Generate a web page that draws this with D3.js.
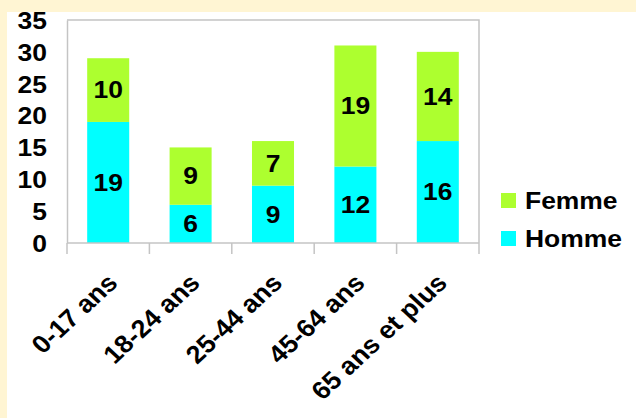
<!DOCTYPE html>
<html>
<head>
<meta charset="utf-8">
<script src="https://cdn.jsdelivr.net/npm/d3@7"></script>
<style>
  html, body { margin: 0; padding: 0; background: #FFF5D3; }
  svg { display: block; }
  text { font-family: "Liberation Sans", Arial, sans-serif; font-weight: bold; fill: #000; }
</style>
</head>
<body>
<script>
// Population by age group and sex
const categories = ["0-17 ans", "18-24 ans", "25-44 ans", "45-64 ans", "65 ans et plus"];
const homme = [19, 6, 9, 12, 16];
const femme = [10, 9, 7, 19, 14];
const seriesNames = ["Homme", "Femme"];
const seriesColors = ["#00FFFF", "#ADFF2F"];
const yTicks = [0, 5, 10, 15, 20, 25, 30, 35];

const W = 636, H = 418;
const plot = { left: 67, top: 20, right: 479, bottom: 243 };
const FS = "23px";   // label font size
const SX = 1.15;     // horizontal widening of the labels

const svg = d3.select("body").append("svg").attr("width", W).attr("height", H);

// cream frame with white panel
svg.append("rect").attr("width", W).attr("height", H).attr("fill", "#FFF5D3");
svg.append("rect").attr("x", 7).attr("y", 12).attr("width", W - 7).attr("height", H - 12).attr("fill", "#fff");

const x = d3.scaleBand().domain(categories)
  .range([plot.left, plot.right]).paddingInner(0.49).paddingOuter(0.245);
const y = d3.scaleLinear().domain([0, 35]).range([plot.bottom, plot.top]);

const rows = categories.map((c, i) => ({ cat: c, Homme: homme[i], Femme: femme[i] }));
const stacked = d3.stack().keys(seriesNames)(rows);

// plot frame
svg.append("path")
  .attr("d", `M${plot.left},${plot.top}H${plot.right}V${plot.bottom}`)
  .attr("fill", "none").attr("stroke", "#c4c4c4").attr("stroke-width", 1.5);

// bars
stacked.forEach((layer, k) => {
  const g = svg.append("g");
  g.selectAll("rect").data(layer).join("rect")
    .attr("x", d => x(d.data.cat))
    .attr("width", x.bandwidth())
    .attr("y", d => y(d[1]))
    .attr("height", d => y(d[0]) - y(d[1]))
    .attr("fill", seriesColors[k]);
  g.selectAll("text").data(layer).join("text")
    .attr("transform", d => `translate(${x(d.data.cat) + x.bandwidth() / 2},${(y(d[0]) + y(d[1])) / 2}) scale(${SX},1)`)
    .attr("text-anchor", "middle")
    .attr("dy", "0.36em")
    .style("font-size", FS)
    .text(d => d[1] - d[0]);
});

// y axis
const yAxis = svg.append("g").attr("transform", `translate(${plot.left},0)`)
  .call(d3.axisLeft(y).tickValues(yTicks).tickSize(0).tickPadding(0));
yAxis.select(".domain").attr("stroke", "#c4c4c4").attr("stroke-width", 1.5);
yAxis.selectAll("text")
  .attr("x", 0).attr("dy", "0.36em")
  .attr("transform", `translate(-20,0) scale(${SX},1)`)
  .style("font-size", FS).style("font-family", null);

// x axis with ticks on band boundaries
const step = x.step();
const bounds = d3.range(categories.length + 1).map(i => plot.left + i * step);
svg.append("line").attr("x1", plot.left).attr("x2", plot.right)
  .attr("y1", plot.bottom).attr("y2", plot.bottom)
  .attr("stroke", "#c4c4c4").attr("stroke-width", 1.5);
svg.selectAll(".xtick").data(bounds).join("line")
  .attr("x1", d => d).attr("x2", d => d)
  .attr("y1", plot.bottom).attr("y2", plot.bottom + 11)
  .attr("stroke", "#c4c4c4").attr("stroke-width", 1.5);
svg.selectAll(".xlabel").data(categories).join("text")
  .attr("transform", d => `translate(${x(d) + x.bandwidth() / 2 + 4},${plot.bottom + 35}) scale(1.08,1) rotate(-45)`)
  .attr("text-anchor", "end")
  .attr("dy", "0.36em")
  .style("font-size", "25px")
  .text(d => d);

// legend
const legend = svg.append("g");
const legendItems = [{ name: "Femme", color: seriesColors[1], cy: 201 }, { name: "Homme", color: seriesColors[0], cy: 239 }];
legendItems.forEach(it => {
  legend.append("rect").attr("x", 501).attr("y", it.cy - 8).attr("width", 15).attr("height", 15).attr("fill", it.color);
  legend.append("text")
    .attr("transform", `translate(525,${it.cy}) scale(${SX},1)`)
    .attr("dy", "0.36em")
    .style("font-size", FS).text(it.name);
});
</script>
</body>
</html>
